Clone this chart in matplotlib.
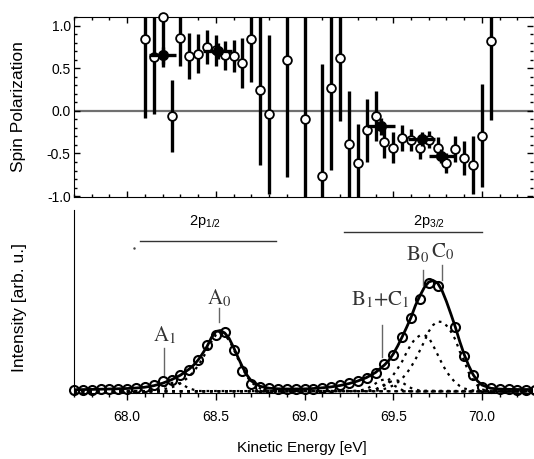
import numpy as np
import matplotlib
matplotlib.use("Agg")
import matplotlib.pyplot as plt
from matplotlib.ticker import MultipleLocator, FormatStrFormatter

plt.rcParams['axes.unicode_minus'] = False
plt.rcParams['font.family'] = ['Liberation Sans Narrow', 'Liberation Sans', 'DejaVu Sans']

# ---- spin polarization (open circles) ----
pol_e = [68.10, 68.15, 68.20, 68.25, 68.30, 68.35, 68.40, 68.45, 68.50, 68.55, 68.60, 68.65,
         68.70, 68.75, 68.80, 68.90, 69.00, 69.10, 69.15, 69.20, 69.25, 69.30, 69.35, 69.40,
         69.45, 69.50, 69.55, 69.60, 69.65, 69.70, 69.75, 69.80, 69.85, 69.90, 69.95, 70.00, 70.05]
pol = [0.84, 0.63, 1.10, -0.06, 0.85, 0.64, 0.67, 0.75, 0.71, 0.65, 0.64, 0.56,
       0.84, 0.24, -0.04, 0.60, -0.09, -0.76, 0.27, 0.62, -0.39, -0.61, -0.23, -0.06,
       -0.37, -0.43, -0.32, -0.34, -0.43, -0.34, -0.44, -0.61, -0.45, -0.55, -0.64, -0.29, 0.82]
pol_err = [0.92, 0.67, 0.59, 0.42, 0.33, 0.27, 0.23, 0.20, 0.18, 0.17, 0.19, 0.29,
           0.50, 0.88, 0.93, 1.37, 1.40, 1.31, 0.96, 0.74, 0.62, 0.45, 0.37, 0.29,
           0.18, 0.18, 0.15, 0.13, 0.14, 0.10, 0.13, 0.12, 0.15, 0.20, 0.34, 0.60, 0.93]

# averaged values (filled circles)
avg_e = [68.20, 68.51, 69.43, 69.66, 69.77]
avg_pol = [0.65, 0.70, -0.18, -0.33, -0.53]
avg_xerr = [0.075, 0.08, 0.08, 0.075, 0.07]
avg_yerr = [0.10, 0.09, 0.10, 0.08, 0.08]

# ---- photoemission spectrum ----
spec_e = [67.70, 67.75, 67.80, 67.85, 67.90, 67.95, 68.00, 68.05, 68.10, 68.15, 68.20, 68.25,
          68.30, 68.35, 68.40, 68.45, 68.50, 68.55, 68.60, 68.65, 68.70, 68.75, 68.80, 68.85,
          68.90, 68.95, 69.00, 69.05, 69.10, 69.15, 69.20, 69.25, 69.30, 69.35, 69.40, 69.45,
          69.50, 69.55, 69.60, 69.65, 69.70, 69.75, 69.85, 69.90, 69.95, 70.00, 70.05, 70.10,
          70.15, 70.20, 70.25, 70.30]
spec_i = [0.018, 0.020, 0.020, 0.024, 0.026, 0.026, 0.030, 0.040, 0.046, 0.063, 0.105, 0.120,
          0.163, 0.220, 0.313, 0.463, 0.563, 0.596, 0.413, 0.206, 0.080, 0.050, 0.036, 0.030,
          0.028, 0.028, 0.025, 0.030, 0.040, 0.048, 0.065, 0.082, 0.108, 0.138, 0.188, 0.272,
          0.368, 0.548, 0.732, 0.925, 1.082, 1.058, 0.648, 0.358, 0.165, 0.048, 0.035, 0.025,
          0.022, 0.020, 0.020, 0.020]

fit_e = [67.70, 67.80, 67.90, 68.00, 68.05, 68.10, 68.15, 68.20, 68.25, 68.30, 68.35, 68.375,
         68.40, 68.425, 68.45, 68.475, 68.50, 68.525, 68.55, 68.575, 68.60, 68.625, 68.65, 68.675,
         68.70, 68.75, 68.80, 68.85, 68.90, 69.00, 69.05, 69.10, 69.15, 69.20, 69.25, 69.30,
         69.35, 69.40, 69.45, 69.475, 69.50, 69.525, 69.55, 69.575, 69.60, 69.625, 69.65, 69.675,
         69.70, 69.725, 69.75, 69.775, 69.80, 69.825, 69.85, 69.875, 69.90, 69.925, 69.95, 69.975,
         70.00, 70.05, 70.10, 70.20, 70.30]
fit_i = [0.018, 0.021, 0.025, 0.030, 0.035, 0.043, 0.058, 0.083, 0.118, 0.163, 0.225, 0.265,
         0.315, 0.380, 0.450, 0.540, 0.600, 0.610, 0.585, 0.530, 0.440, 0.340, 0.245, 0.165,
         0.105, 0.052, 0.033, 0.027, 0.025, 0.026, 0.030, 0.037, 0.046, 0.060, 0.079, 0.105,
         0.140, 0.190, 0.265, 0.310, 0.375, 0.455, 0.545, 0.640, 0.740, 0.860, 0.955, 1.040,
         1.095, 1.110, 1.085, 1.010, 0.900, 0.775, 0.645, 0.500, 0.370, 0.260, 0.170, 0.105,
         0.065, 0.032, 0.024, 0.020, 0.020]

# fitted components (dotted)
a1_e = [67.70, 68.10, 68.15, 68.20, 68.225, 68.25, 68.275, 68.30, 68.325, 68.35, 68.40, 70.30]
a1_i = [0.0, 0.0, 0.01, 0.04, 0.065, 0.085, 0.09, 0.08, 0.055, 0.03, 0.005, 0.0]
a0_e = [67.70, 68.10, 68.20, 68.25, 68.30, 68.35, 68.375, 68.40, 68.425, 68.45, 68.475, 68.50,
        68.525, 68.55, 68.575, 68.60, 68.625, 68.65, 68.675, 68.70, 68.75, 68.80, 70.30]
a0_i = [0.0, 0.005, 0.02, 0.04, 0.08, 0.15, 0.20, 0.26, 0.33, 0.41, 0.50, 0.565,
        0.585, 0.565, 0.51, 0.425, 0.325, 0.23, 0.15, 0.09, 0.03, 0.005, 0.0]
b1_e = [67.70, 69.30, 69.35, 69.40, 69.425, 69.45, 69.475, 69.50, 69.55, 69.60, 70.30]
b1_i = [0.0, 0.005, 0.025, 0.08, 0.11, 0.12, 0.10, 0.065, 0.015, 0.0, 0.0]
c1_e = [67.70, 69.35, 69.40, 69.45, 69.475, 69.50, 69.525, 69.55, 69.60, 69.65, 70.30]
c1_i = [0.0, 0.005, 0.02, 0.06, 0.09, 0.11, 0.11, 0.09, 0.035, 0.008, 0.0]
b0_e = [67.70, 69.35, 69.40, 69.45, 69.50, 69.525, 69.55, 69.575, 69.60, 69.625, 69.65, 69.675,
        69.70, 69.725, 69.75, 69.775, 69.80, 69.825, 69.85, 69.875, 69.90, 69.95, 70.00, 70.30]
b0_i = [0.0, 0.005, 0.02, 0.07, 0.165, 0.23, 0.30, 0.39, 0.47, 0.53, 0.56, 0.565,
        0.54, 0.46, 0.37, 0.28, 0.20, 0.14, 0.09, 0.055, 0.03, 0.01, 0.003, 0.0]
c0_e = [67.70, 69.40, 69.45, 69.50, 69.525, 69.55, 69.575, 69.60, 69.625, 69.65, 69.675, 69.70,
        69.725, 69.75, 69.775, 69.80, 69.825, 69.85, 69.875, 69.90, 69.925, 69.95, 69.975, 70.00,
        70.05, 70.30]
c0_i = [0.0, 0.005, 0.025, 0.06, 0.09, 0.13, 0.18, 0.245, 0.32, 0.41, 0.50, 0.60,
        0.665, 0.70, 0.695, 0.66, 0.60, 0.52, 0.40, 0.31, 0.19, 0.12, 0.06, 0.02,
        0.003, 0.0]

xlim = (67.70, 70.288)

fig = plt.figure(figsize=(5.34, 4.59), dpi=100)
ax1 = fig.add_axes([74/534, 1-197/459, 459/534, 180/459])
ax2 = fig.add_axes([74/534, 1-393/459, 459/534, 183/459])

# ---------- top panel ----------
ax1.axhline(0, color='#707070', lw=1.6, zorder=1)
ax1.errorbar(pol_e, pol, yerr=pol_err, fmt='none', ecolor='black', elinewidth=2.4,
             capsize=0, zorder=2)
ax1.plot(pol_e, pol, 'o', ms=6.3, mfc='white', mec='black', mew=1.3, zorder=4, clip_on=False)
ax1.errorbar(avg_e, avg_pol, xerr=avg_xerr, yerr=avg_yerr, fmt='o', color='black', ms=7,
             elinewidth=2.4, capsize=0, zorder=5)
ax1.set_xlim(*xlim)
ax1.set_ylim(-1.01, 1.10)
ax1.set_yticks([-1.0, -0.5, 0.0, 0.5, 1.0])
ax1.yaxis.set_major_formatter(FormatStrFormatter('%.1f'))
ax1.yaxis.set_minor_locator(MultipleLocator(0.1))
ax1.xaxis.set_major_locator(MultipleLocator(0.5))
ax1.xaxis.set_minor_locator(MultipleLocator(0.1))
ax1.tick_params(which='both', direction='in', top=True, right=True, labelbottom=False,
                labelsize=10, pad=2.4, width=1)
ax1.tick_params(which='major', length=4)
ax1.tick_params(which='minor', length=2.5)
ax1.spines['right'].set_visible(False)
ax1.set_ylabel('Spin Polarization', fontsize=12.5, family=['Liberation Sans'])
ax1.yaxis.set_label_coords(-0.105, 0.5)

# ---------- bottom panel ----------
dot = (0, (1.2, 2.2))
for ce, ci in [(a1_e, a1_i), (a0_e, a0_i), (b1_e, b1_i), (c1_e, c1_i), (b0_e, b0_i), (c0_e, c0_i)]:
    ax2.plot(ce, ci, color='black', lw=1.6, linestyle=dot, zorder=2)
ax2.plot(fit_e, fit_i, color='black', lw=2, zorder=3)
ax2.plot(spec_e, spec_i, 'o', ms=6.5, mfc='none', mec='black', mew=1.5, zorder=4, clip_on=False)

ax2.set_xlim(*xlim)
ax2.set_ylim(-0.015, 1.815)
ax2.set_yticks([])
ax2.xaxis.set_major_locator(MultipleLocator(0.5))
ax2.xaxis.set_minor_locator(MultipleLocator(0.1))
ax2.xaxis.set_major_formatter(FormatStrFormatter('%.1f'))
ax2.tick_params(axis='x', which='both', direction='out', labelsize=10, pad=7, width=1)
ax2.tick_params(axis='x', which='major', length=5)
ax2.tick_params(axis='x', which='minor', length=3)
ax2.spines['top'].set_visible(False)
ax2.spines['right'].set_visible(False)
ax2.set_xlabel('Kinetic Energy [eV]', fontsize=11)
ax2.xaxis.set_label_coords(0.496, -0.262)
ax2.set_ylabel('Intensity [arb. u.]', fontsize=12.5, family=['Liberation Sans'])
ax2.yaxis.set_label_coords(-0.103, 0.467)

# peak labels
lab_col = '#333333'
line_col = '#666666'
lab_size = 15
ax2.plot([68.205, 68.205], [0.165, 0.435], color=line_col, lw=1)
ax2.text(68.21, 0.565, r'$\mathrm{A}_1$', ha='center', va='center', fontsize=lab_size,
         math_fontfamily='stix', color=lab_col)
ax2.plot([68.52, 68.52], [0.695, 0.835], color=line_col, lw=1)
ax2.text(68.52, 0.935, r'$\mathrm{A}_0$', ha='center', va='center', fontsize=lab_size,
         math_fontfamily='stix', color=lab_col)
ax2.plot([69.67, 69.67], [1.065, 1.215], color=line_col, lw=1)
ax2.text(69.64, 1.365, r'$\mathrm{B}_0$', ha='center', va='center', fontsize=lab_size,
         math_fontfamily='stix', color=lab_col)
ax2.plot([69.775, 69.775], [1.115, 1.265], color=line_col, lw=1)
ax2.text(69.78, 1.395, r'$\mathrm{C}_0$', ha='center', va='center', fontsize=lab_size,
         math_fontfamily='stix', color=lab_col)
ax2.plot([69.435, 69.435], [0.345, 0.665], color=line_col, lw=1)
ax2.text(69.43, 0.915, r'$\mathrm{B}_1\mathrm{+C}_1$', ha='center', va='center', fontsize=lab_size,
         math_fontfamily='stix', color=lab_col)

# spin-orbit groups
ax2.plot([68.07, 68.84], [1.505, 1.505], color='#333333', lw=1)
ax2.text(68.44, 1.695, r'2p$_{\mathregular{1/2}}$', ha='center', va='center', fontsize=10.5)
ax2.plot([68.04], [1.435], '.', ms=1.5, color='#444444')
ax2.plot([69.22, 70.0], [1.595, 1.595], color='#333333', lw=1)
ax2.text(69.70, 1.695, r'2p$_{\mathregular{3/2}}$', ha='center', va='center', fontsize=10.5)

fig.savefig('out.png', dpi=100)
